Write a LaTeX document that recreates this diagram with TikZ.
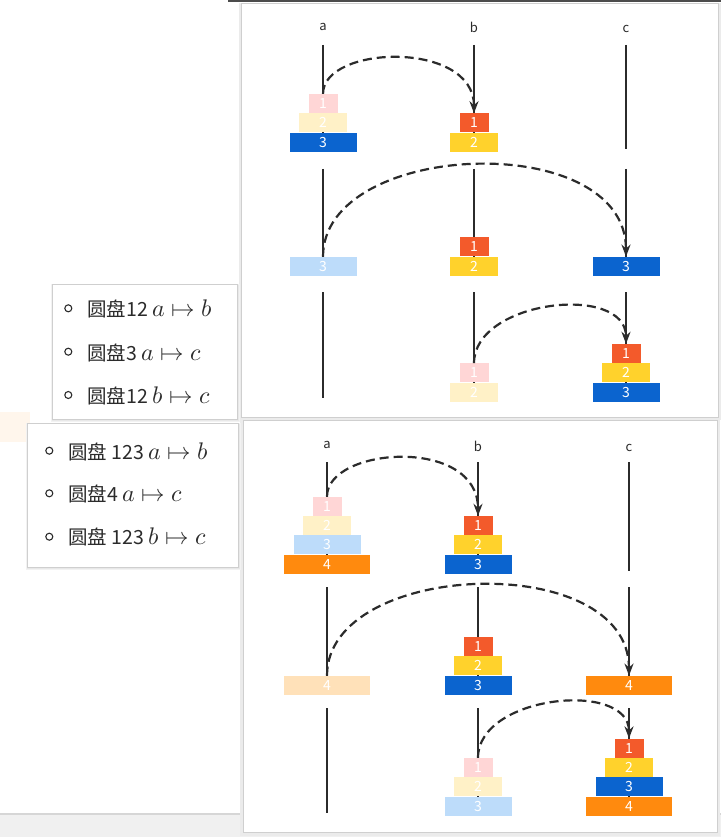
\documentclass[tikz,border=0pt]{standalone}
\usepackage{fontspec}
\usepackage{unicode-math}
\setmathfont{Latin Modern Math}
\setmainfont{Noto Sans CJK SC}
\usetikzlibrary{arrows.meta}
\definecolor{cA}{HTML}{F35A2B}
\definecolor{cB}{HTML}{FFD22C}
\definecolor{cC}{HTML}{0B64CF}
\definecolor{cD}{HTML}{FF8A0E}
\definecolor{fA}{HTML}{FFD6D6}
\definecolor{fB}{HTML}{FFF1C7}
\definecolor{fC}{HTML}{BDDCFA}
\definecolor{fD}{HTML}{FFE1B9}
\definecolor{ink}{HTML}{2B2B2B}
\definecolor{edge}{HTML}{CFCFCF}
\definecolor{peach}{HTML}{FFF6EC}
\newcommand\hmath[1]{{\fontsize{24}{24}\selectfont$#1$}}
\tikzset{
  disk/.style={inner sep=0pt, minimum height=19, anchor=south, text=white,
    font=\fontsize{14}{14}\selectfont},
  wA/.style={disk, minimum width=29},
  wB/.style={disk, minimum width=48},
  wC/.style={disk, minimum width=67},
  wD/.style={disk, minimum width=86},
  peg/.style={line width=2.2pt, draw=ink},
  move/.style={line width=2.2pt, draw=ink, dash pattern=on 9pt off 5pt,
    -{Stealth[length=12pt,width=9pt]}},
  pegname/.style={font=\fontsize{13}{13}\selectfont, text=ink, anchor=base, inner sep=0pt},
  popup/.style={fill=white, draw=edge, line width=1pt},
  item/.style={anchor=base west, inner sep=0pt, text=ink,
    font=\fontsize{19.5}{20}\selectfont},
  dot/.style={circle, draw=ink, line width=1.1pt, inner sep=0pt, minimum size=7}
}
\begin{document}
\begin{tikzpicture}[x=1pt, y=-1pt]
\useasboundingbox (0,0) rectangle (721,837);
\fill[white] (0,0) rectangle (721,837);
% background bits
\fill[peach] (0,412) rectangle (30,442);
\fill[black!6] (0,814) rectangle (721,837);
\draw[black!16, line width=1.2pt] (0,814) -- (721,814);
\fill[black!70] (228,0) rectangle (721,2.5);
% panels
\fill[black!8] (239,3) rectangle (721,420);
\draw[popup] (241.5,4) rectangle (718.5,417.5);
\fill[black!8] (240,418) rectangle (720,836);
\draw[popup] (243,420) rectangle (717.5,832.5);

% ===== top panel =====
\node[pegname] (ta) at (323,31) {a};
\node[pegname] (tb) at (474,33) {b};
\node[pegname] (tc) at (626,33) {c};
\foreach \x in {323,474,626}{
  \draw[peg] (\x,45) -- (\x,149);
  \draw[peg] (\x,169) -- (\x,273);
  \draw[peg] (\x,292) -- (\x,398);
}
% row 1
\node[wC, fill=cC] (t1a3) at (323,152) {3};
\node[wB, fill=fB] (t1a2) at (t1a3.north) {2};
\node[wA, fill=fA] (t1a1) at (t1a2.north) {1};
\node[wB, fill=cB] (t1b2) at (474,152) {2};
\node[wA, fill=cA] (t1b1) at (t1b2.north) {1};
% row 2
\node[wC, fill=fC] (t2a3) at (323,276) {3};
\node[wB, fill=cB] (t2b2) at (474,276) {2};
\node[wA, fill=cA] (t2b1) at (t2b2.north) {1};
\node[wC, fill=cC] (t2c3) at (626,276) {3};
% row 3
\node[wB, fill=fB] (t3b2) at (474,402) {2};
\node[wA, fill=fA] (t3b1) at (t3b2.north) {1};
\node[wC, fill=cC] (t3c3) at (626,402) {3};
\node[wB, fill=cB] (t3c2) at (t3c3.north) {2};
\node[wA, fill=cA] (t3c1) at (t3c2.north) {1};
% moves
\draw[move] (t1a1.north) .. controls (323,45) and (474,40) .. (t1b1.north);
\draw[move] (t2a3.north) .. controls (323,140) and (626,128) .. (t2c3.north);
\draw[move] (t3b1.north) .. controls (474,300) and (626,283) .. (t3c1.north);

% ===== bottom panel =====
\node[pegname] (ba) at (327,448) {a};
\node[pegname] (bb) at (478,451) {b};
\node[pegname] (bc) at (629,451) {c};
\foreach \x in {327,478,629}{
  \draw[peg] (\x,462) -- (\x,571);
  \draw[peg] (\x,587) -- (\x,692);
  \draw[peg] (\x,708) -- (\x,813);
}
% row 1
\node[wD, fill=cD] (b1a4) at (327,574) {4};
\node[wC, fill=fC] (b1a3) at (b1a4.north) {3};
\node[wB, fill=fB] (b1a2) at (b1a3.north) {2};
\node[wA, fill=fA] (b1a1) at (b1a2.north) {1};
\node[wC, fill=cC] (b1b3) at (478,574) {3};
\node[wB, fill=cB] (b1b2) at (b1b3.north) {2};
\node[wA, fill=cA] (b1b1) at (b1b2.north) {1};
% row 2
\node[wD, fill=fD] (b2a4) at (327,695) {4};
\node[wC, fill=cC] (b2b3) at (478,695) {3};
\node[wB, fill=cB] (b2b2) at (b2b3.north) {2};
\node[wA, fill=cA] (b2b1) at (b2b2.north) {1};
\node[wD, fill=cD] (b2c4) at (629,695) {4};
% row 3
\node[wC, fill=fC] (b3b3) at (478,816) {3};
\node[wB, fill=fB] (b3b2) at (b3b3.north) {2};
\node[wA, fill=fA] (b3b1) at (b3b2.north) {1};
\node[wD, fill=cD] (b3c4) at (629,816) {4};
\node[wC, fill=cC] (b3c3) at (b3c4.north) {3};
\node[wB, fill=cB] (b3c2) at (b3c3.north) {2};
\node[wA, fill=cA] (b3c1) at (b3c2.north) {1};
% moves
\draw[move] (b1a1.north) .. controls (327,447) and (478,436) .. (b1b1.north);
\draw[move] (b2a4.north) .. controls (327,560) and (629,549) .. (b2c4.north);
\draw[move] (b3b1.north) .. controls (478,695) and (629,680) .. (b3c1.north);

% ===== popups =====
\fill[black!5] (51,284) rectangle (240,422);
\fill[black!9] (52,285) rectangle (239,421);
\draw[popup] (52,284) rectangle (237,419);
\fill[black!5] (26,423) rectangle (241,570);
\fill[black!9] (27,424) rectangle (240,569);
\draw[popup] (27,423) rectangle (238,567);

\node[dot] (p1d1) at (68.3,308.3) {};
\node[dot] (p1d2) at (68.3,351.7) {};
\node[dot] (p1d3) at (68.3,395) {};
\node[item] (p1t1) at (87,316.5) {圆盘12 \hmath{a\mapsto b}};
\node[item] (p1t2) at (87,360.5) {圆盘3 \hmath{a\mapsto c}};
\node[item] (p1t3) at (87,403) {圆盘12 \hmath{b\mapsto c}};

\node[dot] (p2d1) at (49.3,450.7) {};
\node[dot] (p2d2) at (49.3,493.3) {};
\node[dot] (p2d3) at (49.3,536.7) {};
\node[item] (p2t1) at (68,459) {圆盘 123 \hmath{a\mapsto b}};
\node[item] (p2t2) at (68,501) {圆盘4 \hmath{a\mapsto c}};
\node[item] (p2t3) at (68,544) {圆盘 123 \hmath{b\mapsto c}};
\end{tikzpicture}
\end{document}
